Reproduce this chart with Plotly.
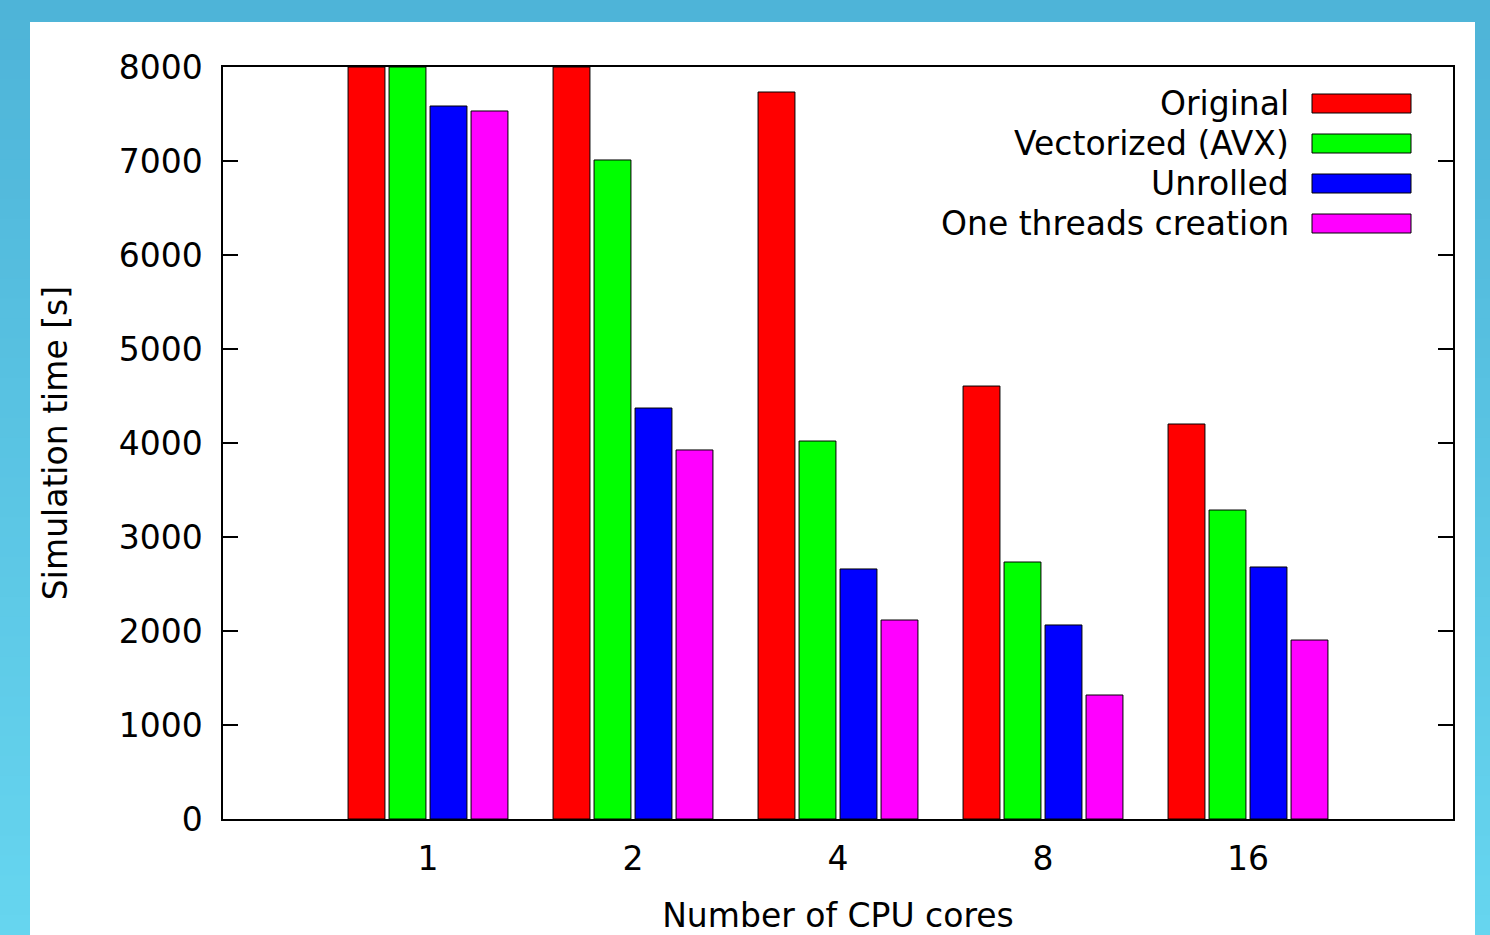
import plotly.graph_objects as go

cores = ["1", "2", "4", "8", "16"]
series_names = ["Original", "Vectorized (AVX)", "Unrolled", "One threads creation"]
original = [8000, 8000, 7734, 4606, 4202]
vectorized = [8000, 7011, 4021, 2734, 3287]
unrolled = [7585, 4372, 2660, 2064, 2681]
one_threads = [7532, 3926, 2117, 1319, 1904]
colors = ["#ff0000", "#00ff00", "#0000ff", "#ff00ff"]

W, H = 1490, 935
L, R, T, B = 223, 1453, 67, 819
FONT = "DejaVu Sans"
FS = 33

def px_x(p):
    return (p - L) / (R - L)

def px_y(p):
    return (B - p) / (B - T)

fig = go.Figure()
for name, vals, col in zip(series_names, [original, vectorized, unrolled, one_threads], colors):
    fig.add_trace(go.Bar(x=cores, y=vals, name=name, marker=dict(color=col, line=dict(color="black", width=1)),
                         showlegend=False))

shapes = []
# gradient background stripes
n = 47
c0 = (78, 180, 216)
c1 = (102, 213, 239)
for i in range(n):
    t = i / (n - 1)
    col = tuple(int(round(c0[k] + (c1[k] - c0[k]) * t)) for k in range(3))
    y0 = i * H / n
    y1 = (i + 1) * H / n + 1
    shapes.append(dict(type="rect", xref="paper", yref="paper", layer="below",
                       x0=px_x(-2), x1=px_x(W + 2), y0=px_y(y1 + (3 if i == n - 1 else 0)),
                       y1=px_y(y0 - (3 if i == 0 else 0)),
                       fillcolor="rgb(%d,%d,%d)" % col, line=dict(width=0)))
# white panel
shapes.append(dict(type="rect", xref="paper", yref="paper", layer="below",
                   x0=px_x(30), x1=px_x(1475), y0=px_y(H + 5), y1=px_y(22),
                   fillcolor="white", line=dict(width=0)))

annotations = []
for i, (name, col) in enumerate(zip(series_names, colors)):
    yc = 103.5 + 40 * i
    annotations.append(dict(xref="paper", yref="paper", x=px_x(1291), y=px_y(yc), xanchor="right", yanchor="middle",
                            text=name, showarrow=False, font=dict(family=FONT, size=FS, color="black")))
    shapes.append(dict(type="rect", xref="paper", yref="paper", layer="above",
                       x0=px_x(1312), x1=px_x(1411), y0=px_y(yc + 9.5), y1=px_y(yc - 9.5),
                       fillcolor=col, line=dict(color="black", width=1)))

fig.update_layout(
    width=W, height=H, autosize=False,
    margin=dict(l=L, r=W - R, t=T, b=H - B, pad=0, autoexpand=False),
    paper_bgcolor="white", plot_bgcolor="rgba(0,0,0,0)",
    barmode="group", bargap=0.2, bargroupgap=0.1,
    font=dict(family=FONT, size=FS, color="black"),
    shapes=shapes, annotations=annotations,
    xaxis=dict(type="category", range=[-1, 5], showline=True, linecolor="black", linewidth=1.5, mirror=True,
               ticks="", showgrid=False, zeroline=False, automargin=False,
               tickfont=dict(family=FONT, size=FS, color="black"), ticklabelstandoff=10,
               title=dict(text="Number of CPU cores", font=dict(family=FONT, size=FS, color="black"), standoff=35)),
    yaxis=dict(range=[0, 8000], dtick=1000, showline=True, linecolor="black", linewidth=1.5, mirror="allticks",
               ticks="inside", ticklen=15, tickwidth=1.5, tickcolor="black", showgrid=False, zeroline=False,
               automargin=False,
               tickfont=dict(family=FONT, size=FS, color="black"), ticklabelstandoff=12,
               title=dict(text="Simulation time [s]", font=dict(family=FONT, size=FS, color="black"), standoff=41)),
)

fig.write_html("out.html", config={"displayModeBar": False, "responsive": False},
               post_script="document.body.style.margin='0';document.body.style.overflow='hidden';")
